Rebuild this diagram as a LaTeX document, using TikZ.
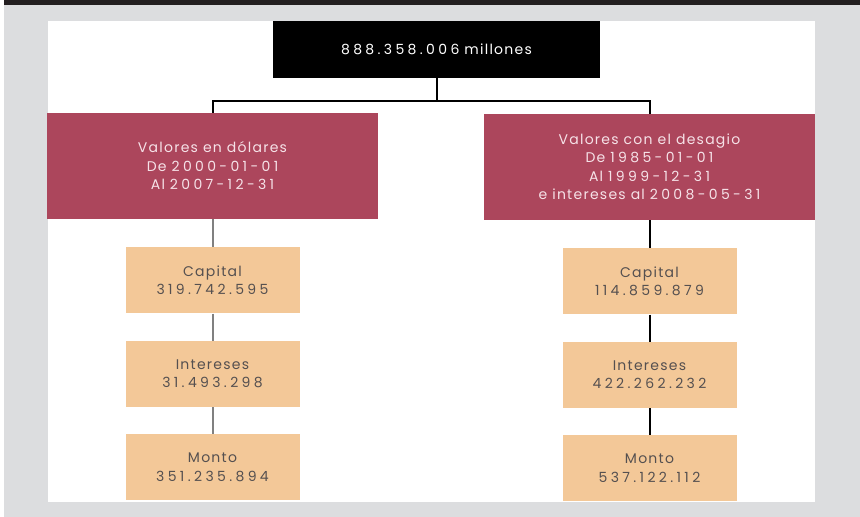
\documentclass[tikz,border=0pt]{standalone}
\usepackage{fontspec}
\setmainfont[LetterSpace=9]{Poppins}
\newfontfamily\cifras[LetterSpace=24]{Poppins}
\usetikzlibrary{positioning}
\definecolor{banda}{RGB}{35,31,32}
\definecolor{panel}{RGB}{220,221,223}
\definecolor{vino}{RGB}{172,70,92}
\definecolor{durazno}{RGB}{243,200,152}
\definecolor{texto}{RGB}{85,80,80}
\definecolor{rosa}{RGB}{246,226,232}

\begin{document}
\begin{tikzpicture}[x=1pt,y=-1pt,node distance=28pt,font=\fontsize{14}{18.5}\selectfont,
  total/.style={fill=black,text=white,minimum width=327pt,minimum height=57pt,inner sep=0pt},
  periodo/.style={fill=vino,text=rosa,align=center,minimum width=331pt,minimum height=106pt,inner sep=0pt},
  cuenta/.style={fill=durazno,text=texto,align=center,minimum width=174pt,minimum height=66pt,inner sep=0pt},
  liga/.style={line width=2pt}]
\useasboundingbox (0,0) rectangle (860,517);
% fondo
\fill[banda] (4,0) rectangle (860,5);
\fill[panel] (4,5) rectangle (860,517);
\fill[white] (48,21) rectangle (815,502);
% cajas
\node[total] (total) at (436.5,49.5) {{\cifras 888.358.006} millones};
\node[periodo] (dolares) at (212.5,166) {Valores en dólares\\De {\cifras 2000-01-01}\\Al {\cifras 2007-12-31}};
\node[periodo] (desagio) at (649.5,167) {Valores con el desagio\\De {\cifras 1985-01-01}\\Al {\cifras 1999-12-31}\\e intereses al {\cifras 2008-05-31}};
\node[cuenta] (capD)[below=of dolares] {Capital\\\cifras 319.742.595};
\node[cuenta] (intD)[below=27pt of capD] {Intereses\\\cifras 31.493.298};
\node[cuenta] (monD)[below=27pt of intD] {Monto\\\cifras 351.235.894};
\node[cuenta] (capS)[below=of desagio] {Capital\\\cifras 114.859.879};
\node[cuenta] (intS)[below=27pt of capS] {Intereses\\\cifras 422.262.232};
\node[cuenta] (monS)[below=27pt of intS] {Monto\\\cifras 537.122.112};
% lineas
\draw[liga] (dolares.north) -- ++(0,-12) coordinate (rama) -| (desagio.north);
\draw[liga] (total.south) -- (total.south |- rama);
\draw[liga,gray] (dolares.south) -- (capD.north)
  (capD.south) -- (intD.north)
  (intD.south) -- (monD.north);
\draw[liga] (desagio.south) -- (capS.north)
  (capS.south) -- (intS.north)
  (intS.south) -- (monS.north);
\end{tikzpicture}
\end{document}
